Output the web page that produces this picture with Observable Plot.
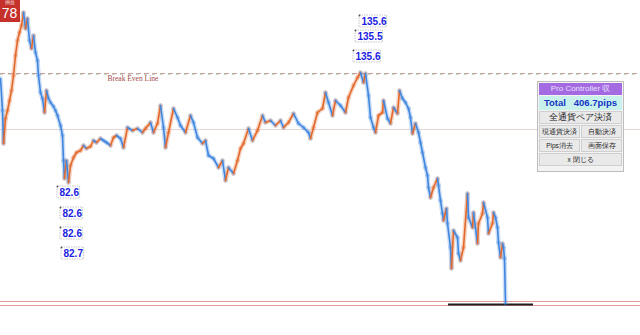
<!DOCTYPE html>
<html>
<head>
<meta charset="utf-8">
<script src="https://cdn.jsdelivr.net/npm/d3@7"></script>
<script src="https://cdn.jsdelivr.net/npm/@observablehq/plot@0.6"></script>
<style>
  html, body { margin: 0; padding: 0; background: #fff; }
  #wrap { position: relative; width: 640px; height: 335px; overflow: hidden; font-family: "Liberation Sans", Arial, sans-serif; }
  #chart { position: absolute; left: 0; top: 0; }
  #pl { position: absolute; left: 0; top: 0; width: 20px; height: 22px; background: #c5302b; color: #fff; text-align: center; }
  #pl .s { font-size: 4.5px; line-height: 5px; height: 6px; overflow: hidden; opacity: .85; }
  #pl .v { font-size: 14px; line-height: 15px; height: 15px; margin-left: -1px; }
  #panel { position: absolute; left: 537px; top: 81px; width: 83px; height: 87px; border: 1px solid #bdbdbd; background: #f3f3f3; padding: 1px; box-sizing: content-box; }
  #panel div { box-sizing: border-box; }
  .ttl { height: 12px; background: #a36ae2; color: #e9e0fb; font-size: 8px; line-height: 12px; text-align: center; }
  .tot { height: 14px; background: #c9f1ec; color: #1335c4; font-size: 9.5px; font-weight: bold; line-height: 14px; text-align: center; margin-top: 1px; white-space: pre; }
  .btn { height: 13px; background: #e9e9e9; border: 1px solid #cfcfcf; font-size: 8.5px; line-height: 11px; text-align: center; color: #222; margin-top: 1px; }
  .row { display: flex; gap: 1px; margin-top: 1px; }
  .row .btn { flex: 1; margin-top: 0; font-size: 6.5px; }
  .sm { font-size: 6.5px !important; }
</style>
</head>
<body>
<div id="wrap">
  <div id="chart"></div>
  <div id="pl"><div class="s">損益</div><div class="v">78</div></div>
  <div id="panel">
    <div class="ttl">Pro Controller 収</div>
    <div class="tot">Total   406.7pips</div>
    <div class="btn">全通貨ペア決済</div>
    <div class="row"><div class="btn">現通貨決済</div><div class="btn">自動決済</div></div>
    <div class="row"><div class="btn">Pips消去</div><div class="btn">画面保存</div></div>
    <div class="btn sm">x 閉じる</div>
  </div>
</div>
<script>
// price path: bar position and price level (chart units)
const bars = [0,2,3,5,7,9,11,13,15,17,19,21,23,25,27,29,31,33,35,37,38,40,42,44,46,48,50,53,55,57,60,62,63,64,66,68,70,73,76,80,83,86,90,93,96,100,103,106,110,113,116,120,123,127,132,137,142,145,150,153,157,160,163,165,168,173,177,180,185,190,193,197,202,205,208,213,218,222,225,228,233,237,240,243,248,252,257,262,265,270,275,280,283,288,293,298,303,308,310,313,317,322,325,328,332,335,340,345,348,353,357,360,363,365,368,370,373,375,378,382,383,387,390,393,397,399,402,405,408,410,412,415,418,420,422,425,427,428,430,433,437,438,440,442,443,446,447,450,451,453,457,458,460,463,467,468,472,473,477,478,482,483,487,488,492,493,495,497,498,500,502,503,504,505];
const prices = [257,225,192,217,225,235,245,260,280,295,303,310,323,307,317,295,287,300,283,275,260,243,237,223,245,237,233,229,225,220,210,200,175,157,175,153,170,178,183,185,190,187,189,195,193,197,195,193,190,198,200,197,188,208,205,207,203,207,213,203,212,230,208,188,203,227,218,210,203,220,213,198,192,195,180,177,168,175,155,168,162,175,187,192,207,195,205,220,213,215,210,215,208,213,222,212,208,203,197,208,223,227,243,233,220,235,230,223,238,250,258,263,253,262,240,218,208,203,220,223,235,217,212,228,222,245,237,233,227,218,202,212,203,193,183,168,160,148,138,148,157,150,135,122,115,127,112,88,67,105,98,82,75,88,142,118,108,123,92,112,122,133,118,102,112,123,118,108,93,78,92,88,77,32];

// horizontal levels
const breakEven = 262;
const midLevel = 206;
const lowerLevels = [34, 30];
const positionLevel = 31;
const positionBars = [448, 533];

// pips annotations
const labelTexts = ["82.6","82.6","82.6","82.7","135.6","135.5","135.6"];
const labelBars  = [57, 60, 60, 61, 359, 355, 353];
const labelTops  = [149, 128, 108, 88, 320, 305, 285];

const orange = "#e2692c", blue = "#3f86df";
const segs = bars.slice(1).map((b, i) => ({
  x1: bars[i], y1: prices[i], x2: b, y2: prices[i + 1], up: prices[i + 1] >= prices[i]
}));
const labels = labelTexts.map((t, i) => ({ text: t, bar: labelBars[i], top: labelTops[i] }));
const font = "Liberation Sans, Arial, sans-serif";

const chart = Plot.plot({
  width: 640, height: 335,
  margin: 0,
  x: { domain: [0, 640], axis: null },
  y: { domain: [0, 335], axis: null },
  style: { background: "white", fontFamily: font },
  marks: [
    Plot.ruleY([midLevel], { stroke: "#e8d6d6", strokeWidth: 1 }),
    Plot.ruleY(lowerLevels, { stroke: "#e39a9a", strokeWidth: 1.1 }),
    Plot.ruleY([breakEven], { stroke: "#cf9f9a", strokeWidth: 1, strokeDasharray: "5,3" }),
    Plot.ruleY([breakEven - 0.8], { stroke: "#adc0a6", strokeWidth: 0.8, strokeDasharray: "3,5" }),
    Plot.text(["Break Even Line"], { x: 107, y: breakEven - 5, textAnchor: "start", fill: "#a24b4b", fontSize: 7.5, fontFamily: "Liberation Serif, DejaVu Serif, serif" }),
    Plot.ruleY([positionLevel], { x1: positionBars[0], x2: positionBars[1], stroke: "#1e1e1e", strokeWidth: 2 }),
    Plot.link(segs, { x1: "x1", y1: "y1", x2: "x2", y2: "y2", stroke: d => d.up ? orange : blue, strokeWidth: 4.5, strokeOpacity: 0.28, strokeLinecap: "round" }),
    Plot.link(segs, { x1: "x1", y1: "y1", x2: "x2", y2: "y2", stroke: d => d.up ? orange : blue, strokeWidth: 1.6, strokeLinecap: "round" }),
    Plot.rect(labels, { x1: d => d.bar, x2: d => d.bar + d.text.length * 4.9 + 3, y1: d => d.top, y2: d => d.top - 12, fill: "white", stroke: "#b8b8b8", strokeWidth: 0.8, strokeDasharray: "1.5,1" }),
    Plot.dot(labels, { x: "bar", y: "top", r: 0.9, fill: "#555" }),
    Plot.text(labels, { x: d => d.bar + 2, y: d => d.top - 6.5, text: "text", textAnchor: "start", fill: "#1c1ce0", fontWeight: "bold", fontSize: 10, fontFamily: font })
  ]
});
document.getElementById("chart").appendChild(chart);
</script>
</body>
</html>
